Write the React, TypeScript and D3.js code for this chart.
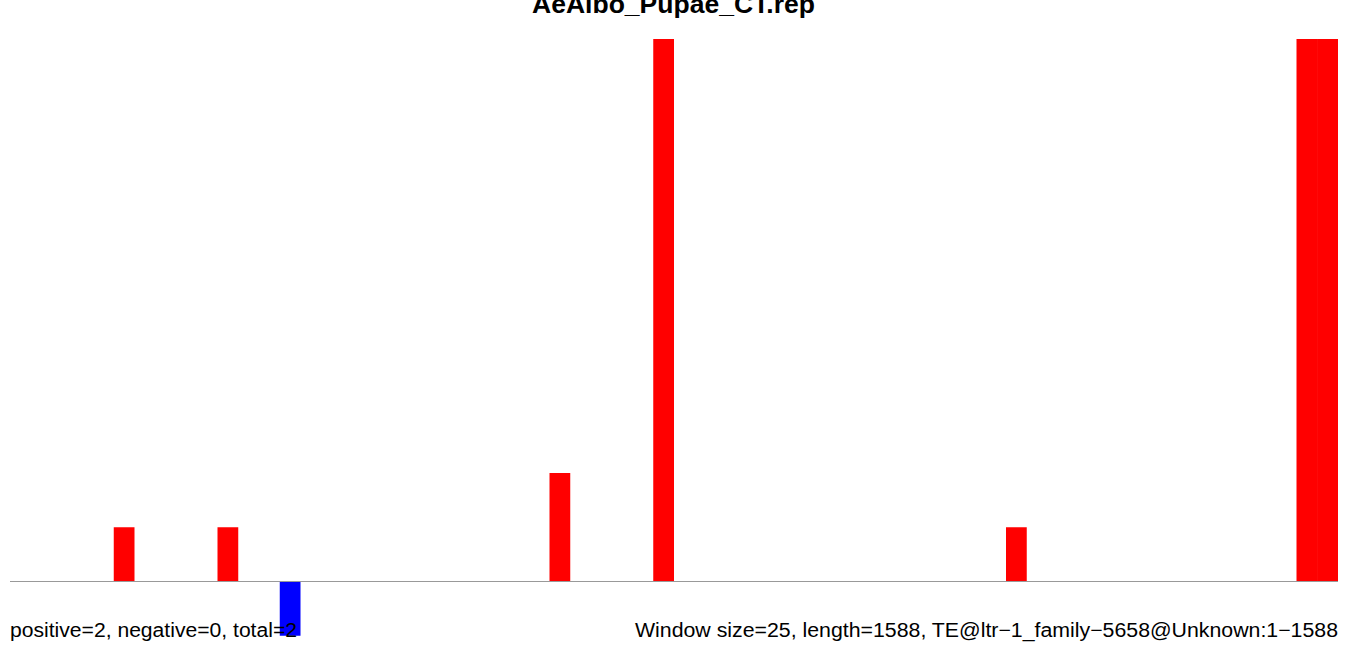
import React from "react";
import * as d3 from "d3";

const title = "AeAlbo_Pupae_CT.rep";
const windowCount = 64;
const windowIndex = [5, 10, 13, 26, 31, 48, 62, 63];
const windowValue = [1, 1, -1, 2, 10, 1, 10, 10];
const leftNote = "positive=2, negative=0, total=2";
const rightNote = "Window size=25, length=1588, TE@ltr\u22121_family\u22125658@Unknown:1\u22121588";

export default function App() {
  const W = 1350, H = 648;
  const x = d3.scaleBand<number>().domain(d3.range(windowCount)).range([10, 1338]).padding(0);
  const y = d3.scaleLinear().domain([0, 10]).range([581.5, 39]);
  const font = "'Liberation Sans', Arial, Helvetica, sans-serif";
  return (
    <svg width={W} height={H} style={{ position: "absolute", left: 0, top: 0 }}>
      <rect width={W} height={H} fill="#fff" />
      <text x={673.5} y={13} textAnchor="middle" fontFamily={font} fontWeight="bold" fontSize={26.5} textLength={283} lengthAdjust="spacingAndGlyphs">{title}</text>
      {windowIndex.map((w, i) => {
        const v = windowValue[i];
        const y0 = y(Math.max(0, v)), y1 = y(Math.min(0, v));
        return <rect key={i} x={x(w)} y={y0} width={x.bandwidth() + (windowIndex[i + 1] === w + 1 ? 0.6 : 0)} height={y1 - y0} fill={v > 0 ? "#ff0000" : "#0000ff"} />;
      })}
      <line x1={10} x2={1338} y1={y(0)} y2={y(0)} stroke="#999" strokeWidth={1.2} />
      <text x={10} y={637} fontFamily={font} fontSize={20} textLength={287} lengthAdjust="spacingAndGlyphs">{leftNote}</text>
      <text x={1338} y={637} textAnchor="end" fontFamily={font} fontSize={20} textLength={703} lengthAdjust="spacingAndGlyphs">{rightNote}</text>
    </svg>
  );
}
